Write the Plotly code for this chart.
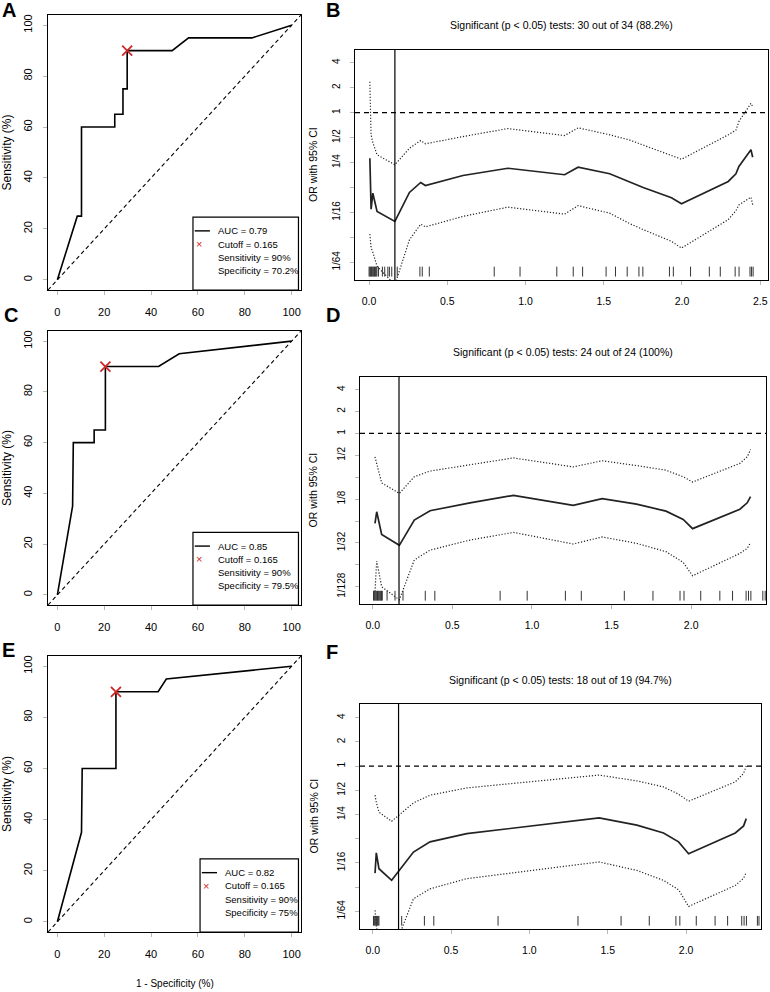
import plotly.graph_objects as go

FONT = "Liberation Sans, Arial, Helvetica, sans-serif"
BOLD = "Liberation Sans, Arial, sans-serif"

# ---------------- ROC data (1 - specificity %, sensitivity %) ----------------
roc_a_fpr = [0, 8.5, 10.3, 10.3, 24.5, 24.5, 28, 28, 29.8, 29.8, 49, 56, 83, 100]
roc_a_tpr = [0, 25, 25, 60, 60, 65, 65, 75, 75, 90, 90, 95, 95, 100]
roc_c_fpr = [0, 6.5, 6.8, 15.7, 15.7, 20.5, 20.5, 43.2, 52, 100]
roc_c_tpr = [0, 35, 60, 60, 65, 65, 90, 90, 95, 100]
roc_e_fpr = [0, 10.3, 10.6, 25, 25, 43, 46.5, 100]
roc_e_tpr = [0, 35, 60, 60, 90, 90, 95, 100]

cut_fpr = {"A": 29.8, "C": 20.5, "E": 25.0}
cut_tpr = {"A": 90, "C": 90, "E": 90}

legend_a = ["AUC = 0.79", "Cutoff = 0.165", "Sensitivity = 90%", "Specificity = 70.2%"]
legend_c = ["AUC = 0.85", "Cutoff = 0.165", "Sensitivity = 90%", "Specificity = 79.5%"]
legend_e = ["AUC = 0.82", "Cutoff = 0.165", "Sensitivity = 90%", "Specificity = 75%"]

roc_ticks = [0, 20, 40, 60, 80, 100]

# ---------------- OR curves (x = cutoff value, y = log2(OR)) ----------------
cutoff = 0.165

b_x = [0.005, 0.013, 0.024, 0.051, 0.165, 0.258, 0.33, 0.36, 0.6, 0.887, 1.25, 1.336,
       1.538, 1.666, 1.752, 1.933, 1.997, 2.296, 2.345, 2.364, 2.441, 2.452]
b_or = [-1.83, -3.87, -3.23, -3.96, -4.36, -3.2, -2.8, -2.92, -2.52, -2.23, -2.49, -2.19,
        -2.45, -2.77, -3.0, -3.41, -3.65, -2.76, -2.45, -2.16, -1.49, -1.79]
b_up = [1.24, -0.89, -1.2, -1.69, -2.09, -1.43, -1.12, -1.25, -0.96, -0.64, -0.92, -0.61,
        -0.89, -1.1, -1.3, -1.7, -1.87, -0.89, -0.7, -0.36, 0.37, 0.24]
b_lo = [-4.87, -5.42, -5.6, -6.16, -6.9, -5.1, -4.47, -4.58, -4.16, -3.79, -4.07, -3.73,
        -4.03, -4.45, -4.69, -5.16, -5.43, -4.29, -3.93, -3.7, -3.39, -3.69]
b_rug = [0.0, 0.005, 0.01, 0.015, 0.02, 0.025, 0.03, 0.035, 0.04, 0.045, 0.05, 0.06, 0.085,
         0.1, 0.12, 0.13, 0.145, 0.18, 0.325, 0.34, 0.385, 0.8, 0.965, 1.2, 1.305, 1.365,
         1.515, 1.575, 1.65, 1.725, 1.75, 1.92, 1.945, 2.055, 2.175, 2.245, 2.34, 2.365,
         2.435, 2.445, 2.455]

d_x = [0.014, 0.025, 0.056, 0.167, 0.261, 0.36, 0.611, 0.884, 1.259, 1.441, 1.657, 1.842,
       1.95, 2.009, 2.306, 2.352, 2.373]
d_or = [-4.11, -3.58, -4.61, -5.11, -3.96, -3.53, -3.17, -2.83, -3.29, -2.98, -3.23, -3.55,
        -3.93, -4.35, -3.46, -3.17, -2.89]
d_up = [-1.07, -1.4, -2.26, -2.74, -1.98, -1.72, -1.42, -1.12, -1.53, -1.25, -1.47, -1.68,
        -1.98, -2.22, -1.37, -1.07, -0.74]
d_lo = [-7.22, -5.83, -7.0, -7.6, -5.78, -5.33, -4.87, -4.52, -5.05, -4.73, -5.02, -5.4,
        -5.89, -6.5, -5.48, -5.25, -4.99]
d_rug = [0.005, 0.01, 0.015, 0.02, 0.025, 0.03, 0.035, 0.04, 0.045, 0.05, 0.055, 0.06, 0.09,
         0.14, 0.19, 0.33, 0.39, 0.8, 0.97, 1.21, 1.31, 1.58, 1.76, 1.93, 1.955, 2.06, 2.18,
         2.26, 2.345, 2.36, 2.375, 2.45, 2.465]

f_x = [0.015, 0.023, 0.04, 0.121, 0.26, 0.366, 0.6, 1.445, 1.686, 1.856, 1.952, 2.016,
       2.314, 2.367, 2.384]
f_or = [-4.42, -3.58, -4.24, -4.72, -3.55, -3.13, -2.79, -2.14, -2.44, -2.76, -3.13, -3.62,
        -2.76, -2.47, -2.17]
f_up = [-1.2, -1.5, -1.9, -2.28, -1.52, -1.2, -0.9, -0.37, -0.61, -0.86, -1.16, -1.45,
        -0.65, -0.3, 0.01]
f_lo = [-5.96, -6.6, -7.2, -7.8, -5.48, -5.07, -4.65, -3.96, -4.31, -4.72, -5.11, -5.8,
        -4.93, -4.63, -4.38]
f_rug = [0.005, 0.01, 0.015, 0.02, 0.025, 0.03, 0.035, 0.04, 0.185, 0.33, 0.39, 0.8, 1.31,
         1.585, 1.765, 1.935, 1.96, 2.065, 2.185, 2.265, 2.355, 2.37, 2.385, 2.455, 2.465]

title_b = "Significant (p < 0.05) tests: 30 out of 34 (88.2%)"
title_d = "Significant (p < 0.05) tests: 24 out of 24 (100%)"
title_f = "Significant (p < 0.05) tests: 18 out of 19 (94.7%)"

or_ticks_64 = [-6, -5, -4, -3, -2, -1, 0, 1, 2]
or_text_64 = ["1/64", "", "1/16", "", "1/4", "1/2", "1", "2", "4"]
or_ticks_128 = [-7, -6, -5, -4, -3, -2, -1, 0, 1, 2]
or_text_128 = ["1/128", "", "1/32", "", "1/8", "", "1/2", "1", "2", "4"]
or_xticks = [0.0, 0.5, 1.0, 1.5, 2.0, 2.5]
or_xtext = ["0.0", "0.5", "1.0", "1.5", "2.0", "2.5"]

# ---------------- figure ----------------
W, H = 770, 992
fig = go.Figure()
shapes = []
annotations = []


def axis_common(size):
    return dict(showline=True, mirror=True, linecolor="black", linewidth=1.3,
                ticks="outside", ticklen=4, tickwidth=1, tickcolor="#b8b8b8",
                showgrid=False, zeroline=False,
                tickfont=dict(family=FONT, size=size, color="black"))


def px_dom_x(a, b):
    return [a / W, b / W]


def px_dom_y(top, bottom):
    return [1 - bottom / H, 1 - top / H]


def text_ann(px, py, text, size, angle=0, family=FONT):
    return dict(xref="paper", yref="paper", x=px / W, y=1 - py / H, text=text,
                textangle=angle, showarrow=False, xanchor="center", yanchor="middle",
                font=dict(family=family, size=size, color="black"))


layout_axes = {}

# ROC panels
roc_panels = [
    ("A", "", roc_a_fpr, roc_a_tpr, legend_a, (15, 290), 0.573),
    ("C", "3", roc_c_fpr, roc_c_tpr, legend_c, (331, 605), 0.573),
    ("E", "5", roc_e_fpr, roc_e_tpr, legend_e, (656, 932), 0.601),
]
for name, n, fx, ty, leg, (top, bot), lleft in roc_panels:
    xa, ya = "x" + n, "y" + n
    layout_axes["xaxis" + n] = dict(axis_common(11), domain=px_dom_x(48, 301), range=[-4, 104],
                                    tickvals=roc_ticks, anchor=ya, ticklabelstandoff=7)
    layout_axes["yaxis" + n] = dict(axis_common(11), domain=px_dom_y(top, bot), range=[-4, 104],
                                    tickvals=roc_ticks, tickangle=-90, anchor=xa,
                                    ticklabelstandoff=6)
    shapes.append(dict(type="line", xref=xa + " domain", yref=ya + " domain",
                       x0=0, y0=0, x1=1, y1=1,
                       line=dict(color="black", width=1.1, dash="4px,3px"), layer="below"))
    fig.add_trace(go.Scatter(x=fx, y=ty, mode="lines", xaxis=xa, yaxis=ya,
                             line=dict(color="black", width=1.6), showlegend=False))
    fig.add_trace(go.Scatter(x=[cut_fpr[name]], y=[cut_tpr[name]], mode="markers",
                             xaxis=xa, yaxis=ya, showlegend=False,
                             marker=dict(symbol="x-thin", size=10, color="#d02828",
                                         line=dict(color="#d02828", width=1.8))))
    # legend box
    shapes.append(dict(type="rect", xref=xa + " domain", yref=ya + " domain",
                       x0=lleft, x1=0.99, y0=0.0, y1=0.265, fillcolor="white",
                       line=dict(color="black", width=1.2), layer="above"))
    rows = [0.215, 0.167, 0.119, 0.071]
    shapes.append(dict(type="line", xref=xa + " domain", yref=ya + " domain",
                       x0=lleft + 0.007, x1=lleft + 0.067, y0=rows[0], y1=rows[0],
                       line=dict(color="black", width=1.4), layer="above"))
    annotations.append(dict(xref=xa + " domain", yref=ya + " domain", x=lleft + 0.022,
                            y=rows[1], text="×", showarrow=False,
                            xanchor="center", yanchor="middle",
                            font=dict(family=BOLD, size=11, color="#d02828")))
    for r, t in zip(rows, leg):
        annotations.append(dict(xref=xa + " domain", yref=ya + " domain", x=lleft + 0.092,
                                y=r, text=t, showarrow=False, xanchor="left",
                                yanchor="middle",
                                font=dict(family=FONT, size=9.5, color="black")))
    annotations.append(text_ann(7, (top + bot) / 2, "Sensitivity (%)", 12, -90))

annotations.append(text_ann(174.5, 983, "1 - Specificity (%)", 10))

# OR panels
or_panels = [
    ("2", b_x, b_or, b_up, b_lo, b_rug, title_b, (355, 768), (50, 280),
     [-0.09, 2.55], [-6.71, 2.51], or_ticks_64, or_text_64, 25),
    ("4", d_x, d_or, d_up, d_lo, d_rug, title_d, (360, 766), (377, 604),
     [-0.08, 2.47], [-7.79, 2.575], or_ticks_128, or_text_128, 352),
    ("6", f_x, f_or, f_up, f_lo, f_rug, title_f, (360, 761), (704, 929),
     [-0.081, 2.478], [-6.73, 2.567], or_ticks_64, or_text_64, 680),
]
for n, xs, mid, up, lo, rug, title, (l, r), (top, bot), xr, yr, tv, tt, ty in or_panels:
    xa, ya = "x" + n, "y" + n
    layout_axes["xaxis" + n] = dict(axis_common(10.5), domain=px_dom_x(l, r), range=xr,
                                    tickvals=or_xticks, ticktext=or_xtext, anchor=ya,
                                    ticklabelstandoff=7)
    layout_axes["yaxis" + n] = dict(axis_common(10), domain=px_dom_y(top, bot), range=yr,
                                    tickvals=tv, ticktext=tt, tickangle=-90, anchor=xa,
                                    ticklabelstandoff=6)
    shapes.append(dict(type="line", xref=xa + " domain", yref=ya, x0=0, x1=1, y0=0, y1=0,
                       line=dict(color="black", width=1.3, dash="5px,4px")))
    shapes.append(dict(type="line", xref=xa, yref=ya + " domain", x0=cutoff, x1=cutoff,
                       y0=0, y1=1, line=dict(color="black", width=1.2)))
    for v in rug:
        shapes.append(dict(type="line", xref=xa, yref=ya + " domain", x0=v, x1=v,
                           y0=0.015, y1=0.058, line=dict(color="#333333", width=1)))
    for ys, dash, w in ((up, "1.2px,1.8px", 1.2), (lo, "1.2px,1.8px", 1.2),
                        (mid, "solid", 1.7)):
        fig.add_trace(go.Scatter(x=xs, y=ys, mode="lines", xaxis=xa, yaxis=ya,
                                 line=dict(color="#222222", width=w, dash=dash),
                                 showlegend=False))
    annotations.append(text_ann((l + r) / 2, ty, title, 10.5))
    annotations.append(text_ann(313, (top + bot) / 2, "OR with 95% CI", 10.5, -90))

# panel letters
for letter, (px, py) in {"A": (9, 10), "B": (333, 10), "C": (11, 315), "D": (333, 315),
                         "E": (8, 650), "F": (332, 652)}.items():
    annotations.append(text_ann(px, py, "<b>" + letter + "</b>", 20, 0, BOLD))

fig.update_layout(width=W, height=H, margin=dict(l=0, r=0, t=0, b=0),
                  paper_bgcolor="white", plot_bgcolor="white", showlegend=False,
                  shapes=shapes, annotations=annotations, **layout_axes)

fig.write_html("out.html", config={"displayModeBar": False, "staticPlot": True},
               post_script="document.body.style.margin='0';"
                           "document.body.style.overflow='hidden';")
